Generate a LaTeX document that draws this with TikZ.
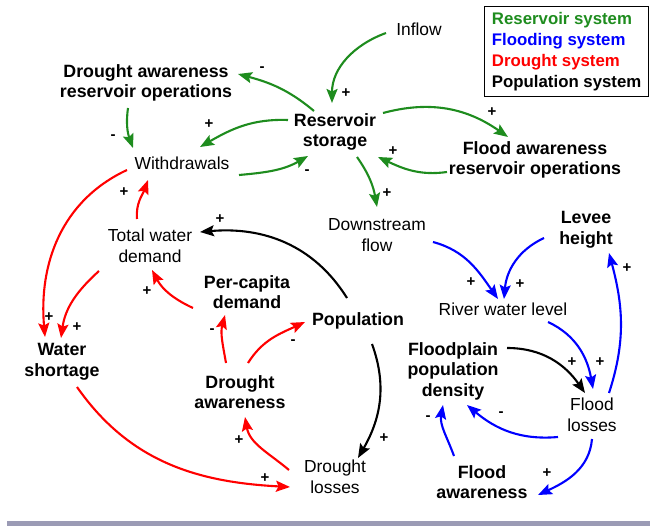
\documentclass[tikz,border=0pt]{standalone}
\usepackage{fontspec}
\setmainfont{Liberation Sans}
\usetikzlibrary{arrows.meta,calc}
\definecolor{resgreen}{RGB}{30,140,30}
\definecolor{floodblue}{RGB}{0,0,255}
\definecolor{drored}{RGB}{255,0,0}
\definecolor{barcol}{RGB}{155,155,181}
\tikzset{
  lbl/.style={font=\fontsize{17.4}{20.5}\selectfont, align=center, inner sep=0pt},
  blbl/.style={lbl, font=\fontsize{17.8}{20.5}\selectfont\bfseries},
  sgn/.style={font=\fontsize{15}{15}\selectfont\bfseries, inner sep=0pt},
  arr/.style={line width=2.1pt, -{Stealth[length=14pt,width=11pt,inset=2.5pt]}},
  garr/.style={arr, resgreen},
  barr/.style={arr, floodblue},
  rarr/.style={arr, drored},
  karr/.style={arr, black},
}
\begin{document}
\begin{tikzpicture}[x=1pt,y=1pt]
\useasboundingbox (0,0) rectangle (650,-526);
\fill[barcol] (7,-521) rectangle (650,-526);

% legend
\node[draw, line width=1.3pt, anchor=north west, align=left, minimum width=164pt,
  minimum height=90pt, inner sep=0pt, font=\fontsize{16.8}{20.7}\selectfont\bfseries]
  (legend) at (484,-6)
  {\textcolor{resgreen}{Reservoir system}\\\textcolor{floodblue}{Flooding system}\\\textcolor{drored}{Drought system}\\Population system};

% nodes
\node[lbl]  (inflow) at (419,-29)  {Inflow};
\node[blbl] (res)    at (335,-132) {Reservoir\\storage};
\node[blbl] (dro)    at (146,-83)  {Drought awareness\\reservoir operations};
\node[lbl]  (wd)     at (182,-163) {Withdrawals};
\node[blbl] (fro)    at (535,-160) {Flood awareness\\reservoir operations};
\node[lbl]  (dsf)    at (377,-235) {Downstream\\flow};
\node[blbl] (lev)    at (586,-230) {Levee\\height};
\node[lbl]  (rwl)    at (503,-309) {River water level};
\node[lbl]  (twd)    at (150,-246) {Total water\\demand};
\node[blbl] (pcd)    at (247,-292) {Per-capita\\demand};
\node[blbl] (pop)    at (358,-321) {Population};
\node[blbl] (ws)     at (62,-362)  {Water\\shortage};
\node[blbl] (da)     at (240,-392) {Drought\\awareness};
\node[blbl] (fpd)    at (453,-371) {Floodplain\\population\\density};
\node[lbl]  (fl)     at (592,-415) {Flood\\losses};
\node[lbl]  (dl)     at (335,-477) {Drought\\losses};
\node[blbl] (fa)     at (482,-482) {Flood\\awareness};

% green connectors
\draw[garr] ($(inflow)+(-33,-4)$) to[out=200,in=90] ($(res)+(-3,29)$);
\draw[garr] ($(res)+(-21,21)$) to[out=140,in=-15] ($(dro)+(92,9)$);
\draw[garr] ($(res)+(-47,12)$) to[out=178,in=30] ($(wd)+(18,16)$);
\draw[garr] ($(dro)+(-18,-25)$) to[out=262,in=110] ($(wd)+(-49,15)$);
\draw[garr] ($(wd)+(57,-12)$) to[out=5,in=210] ($(res)+(-27,-24)$);
\draw[garr] ($(res)+(48,19)$) to[out=15,in=145] ($(fro)+(-27,23)$);
\draw[garr] ($(fro)+(-88,-12)$) to[out=188,in=335] ($(res)+(43,-25)$);
\draw[garr] ($(res)+(22,-25)$) to[out=-55,in=100] ($(dsf)+(0,28)$);

% blue connectors
\draw[barr] ($(dsf)+(56,-7)$) to[out=-15,in=125] ($(rwl)+(-5,10)$);
\draw[barr] ($(lev)+(-42,-8)$) to[out=205,in=85] ($(rwl)+(1,10)$);
\draw[barr] ($(rwl)+(45,-13)$) to[out=-25,in=100] ($(fl)+(1,26)$);
\draw[barr] ($(fl)+(17,22)$) to[out=72,in=-75] ($(lev)+(23,-23)$);
\draw[barr] ($(fl)+(-34,-22)$) to[out=185,in=320] ($(fpd)+(14,-34)$);
\draw[barr] ($(fa)+(-28,26)$) to[out=110,in=260] ($(fpd)+(-10,-34)$);
\draw[barr] ($(fl)+(0,-24)$) to[out=265,in=25] ($(fa)+(56,-13)$);

% black connectors
\draw[karr] ($(pop)+(-11,23)$) to[out=122,in=5] ($(twd)+(50,14)$);
\draw[karr] ($(pop)+(14,-23)$) to[out=-70,in=60] ($(dl)+(23,19)$);
\draw[karr] ($(fpd)+(54,23)$) to[out=0,in=125] ($(fl)+(-7,22)$);

% red connectors
\draw[rarr] ($(wd)+(-55,-7)$) to[out=205,in=95] ($(ws)+(-17,25)$);
\draw[rarr] ($(twd)+(-13,27)$) to[out=95,in=250] ($(wd)+(-34,-17)$);
\draw[rarr] ($(twd)+(-51,-25)$) to[out=222,in=82] ($(ws)+(-1,24)$);
\draw[rarr] ($(pcd)+(-54,-16)$) to[out=155,in=-62] ($(twd)+(2,-24)$);
\draw[rarr] ($(da)+(-14,29)$) to[out=100,in=255] ($(pcd)+(-22,-23)$);
\draw[rarr] ($(da)+(8,29)$) to[out=58,in=205] ($(pop)+(-53,-1)$);
\draw[rarr] ($(ws)+(15,-25)$) to[out=-55,in=177] ($(dl)+(-45,-10)$);
\draw[rarr] ($(dl)+(-46,7)$) to[out=140,in=280] ($(da)+(5,-25)$);

% polarity signs
\node[sgn] (s1)  at (346,-93)  {+};
\node[sgn] (s2)  at (262,-69)  {-};
\node[sgn] (s3)  at (209,-124) {+};
\node[sgn] (s4)  at (113,-137) {-};
\node[sgn] (s5)  at (307,-172) {-};
\node[sgn] (s6)  at (492,-112) {+};
\node[sgn] (s7)  at (393,-151) {+};
\node[sgn] (s8)  at (387,-193) {+};
\node[sgn] (s9)  at (471,-282) {+};
\node[sgn] (s10) at (520,-284) {+};
\node[sgn] (s11) at (600,-362) {+};
\node[sgn] (s12) at (627,-268) {+};
\node[sgn] (s13) at (501,-414) {-};
\node[sgn] (s14) at (428,-418) {-};
\node[sgn] (s15) at (547,-473) {+};
\node[sgn] (s16) at (220,-219) {+};
\node[sgn] (s17) at (384,-438) {+};
\node[sgn] (s18) at (572,-362) {+};
\node[sgn] (s19) at (49,-317)  {+};
\node[sgn] (s20) at (124,-192) {+};
\node[sgn] (s21) at (77,-327)  {+};
\node[sgn] (s22) at (147,-291) {+};
\node[sgn] (s23) at (212,-331) {-};
\node[sgn] (s24) at (293,-342) {-};
\node[sgn] (s25) at (265,-478) {+};
\node[sgn] (s26) at (239,-440) {+};
\end{tikzpicture}
\end{document}
